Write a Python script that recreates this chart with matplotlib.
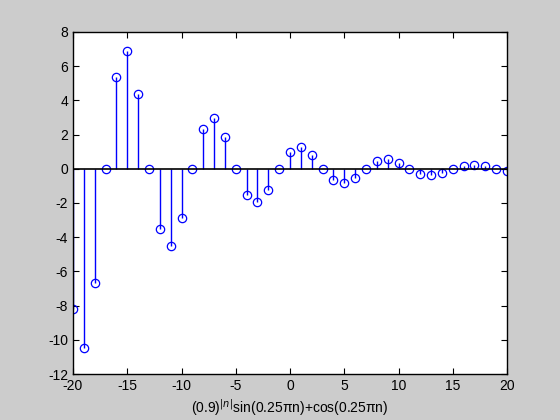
import matplotlib
matplotlib.use('Agg')
import matplotlib.pyplot as plt

plt.rcParams['font.family'] = ['Liberation Sans', 'DejaVu Sans']
plt.rcParams['axes.unicode_minus'] = False

# n values and sequence
n = list(range(-20, 21))
x = [-8.225, -10.469, -6.663, 0, 5.397, 6.869, 4.371, 0,
     -3.541, -4.507, -2.868, 0, 2.323, 2.957, 1.882, 0,
     -1.524, -1.940, -1.235, 0, 1.0, 1.273, 0.810, 0,
     -0.656, -0.835, -0.531, 0, 0.430, 0.548, 0.349, 0,
     -0.282, -0.359, -0.229, 0, 0.185, 0.236, 0.150, 0,
     -0.122]

fig = plt.figure(figsize=(5.6, 4.2), dpi=100, facecolor='#cccccc')
ax = fig.add_axes([73/560, 1 - 374/420, (507-73)/560, (374-32)/420])
ax.set_facecolor('white')

markerline, stemlines, baseline = ax.stem(n, x, linefmt='b-', markerfmt='bo', basefmt='k-')
markerline.set_markerfacecolor('none')
markerline.set_markersize(6)
markerline.set_markeredgewidth(0.9)
stemlines.set_linewidth(1)
baseline.set_linewidth(1.2)
baseline.set_xdata([-20, 20])

ax.set_xlim(-20, 20)
ax.set_ylim(-12, 8)
ax.set_xticks(range(-20, 21, 5))
ax.set_yticks(range(-12, 9, 2))
ax.tick_params(direction='in', top=True, right=True, labelsize=10, length=4)
for s in ax.spines.values():
    s.set_linewidth(1)
ax.set_xlabel('(0.9)$^{|n|}$sin(0.25πn)+cos(0.25πn)', fontsize=10, labelpad=3)

fig.savefig('out.png', dpi=100, facecolor=fig.get_facecolor())
